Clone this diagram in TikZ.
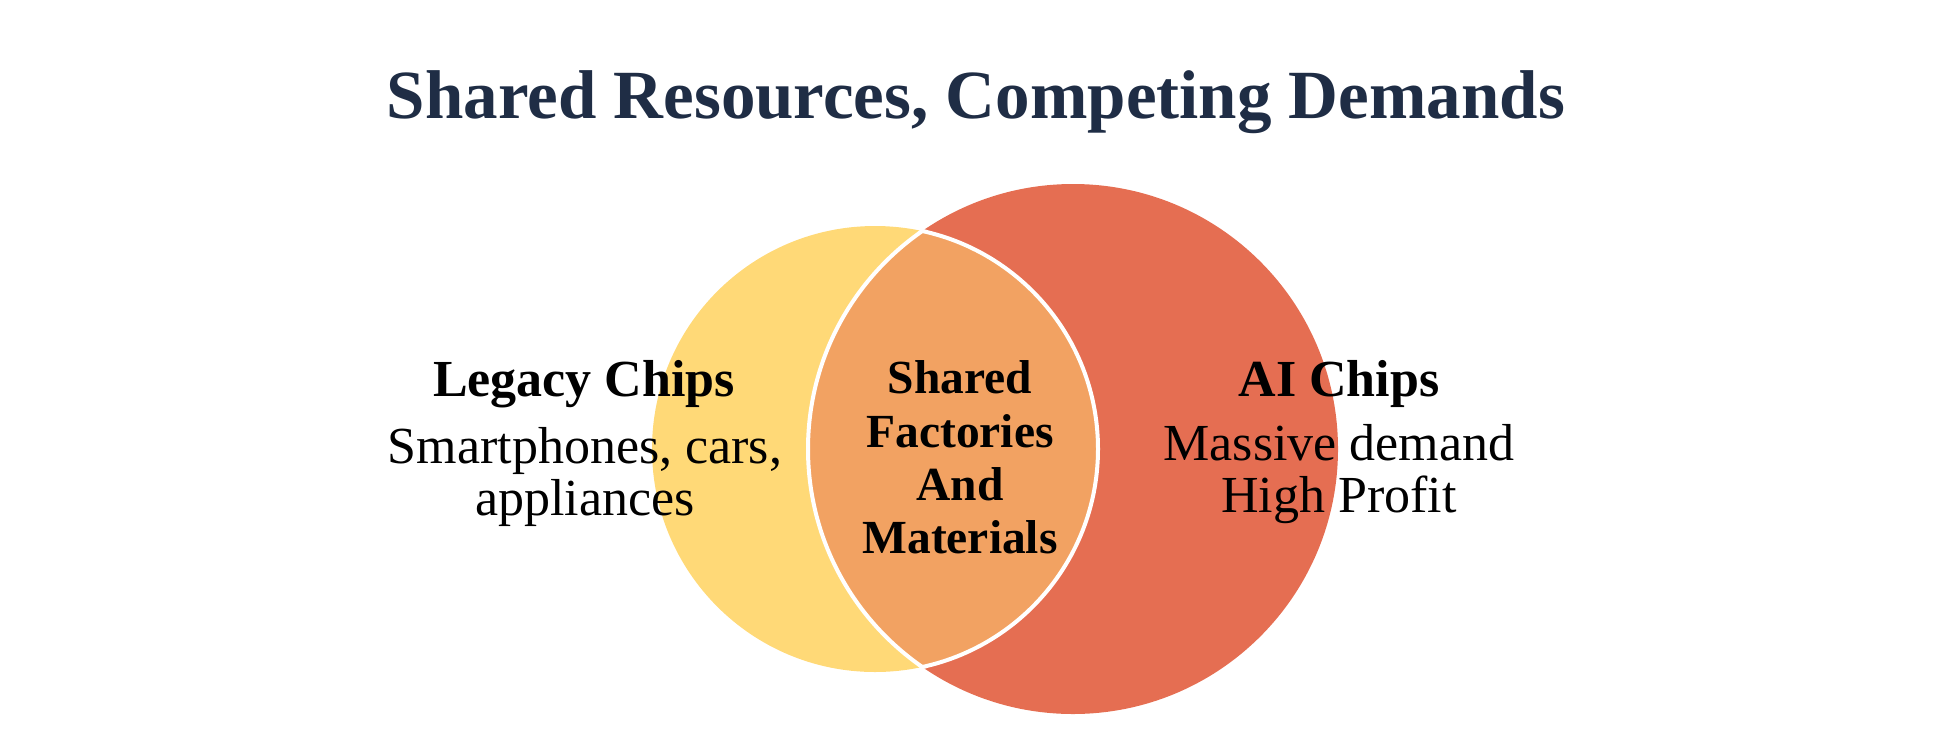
\documentclass[tikz,border=0pt]{standalone}
\usepackage{fontspec}
\setmainfont{Liberation Serif}
\definecolor{ylw}{HTML}{FFD977}
\definecolor{rd}{HTML}{E56E52}
\definecolor{org}{HTML}{F2A262}
\definecolor{navy}{HTML}{1F2D45}
\begin{document}
\begin{tikzpicture}[x=1pt,y=-1pt,
  lbl/.style={anchor=base,inner sep=0pt,font=\fontsize{52}{60}\selectfont},
  bl/.style={anchor=base,inner sep=0pt,font=\fontsize{52}{60}\selectfont\bfseries},
  cbl/.style={anchor=base,inner sep=0pt,font=\fontsize{47.5}{55}\selectfont\bfseries},
  ttl/.style={anchor=base,inner sep=0pt,text=navy,font=\fontsize{69}{80}\selectfont\bfseries},
  ring/.style={draw=white,line width=4pt}]
\useasboundingbox (0,0) rectangle (1950,753);
% circles
\fill[ylw] (875,449) circle (223);
\fill[rd] (1073,449) circle (265);
\begin{scope}
  \clip (875,449) circle (223);
  \fill[org] (1073,449) circle (265);
\end{scope}
\begin{scope}
  \clip (875,449) circle (225);
  \draw[ring] (1073,449) circle (265);
\end{scope}
\begin{scope}
  \clip (1073,449) circle (267);
  \draw[ring] (875,449) circle (223);
\end{scope}
% title
\node[ttl] (title) at (976,118) {Shared Resources, Competing Demands};
% left
\node[bl] (l1) at (584,396) {Legacy Chips};
\node[lbl] (l2) at (585,463) {Smartphones, cars,};
\node[lbl] (l3) at (585,515) {appliances};
% center
\node[cbl] (c1) at (960,393) {Shared};
\node[cbl] (c2) at (960,447) {Factories};
\node[cbl] (c3) at (960,500) {And};
\node[cbl] (c4) at (960,553) {Materials};
% right
\node[bl] (r1) at (1339,396) {AI Chips};
\node[lbl] (r2) at (1339,460) {Massive demand};
\node[lbl] (r3) at (1339,512) {High Profit};
\end{tikzpicture}
\end{document}
